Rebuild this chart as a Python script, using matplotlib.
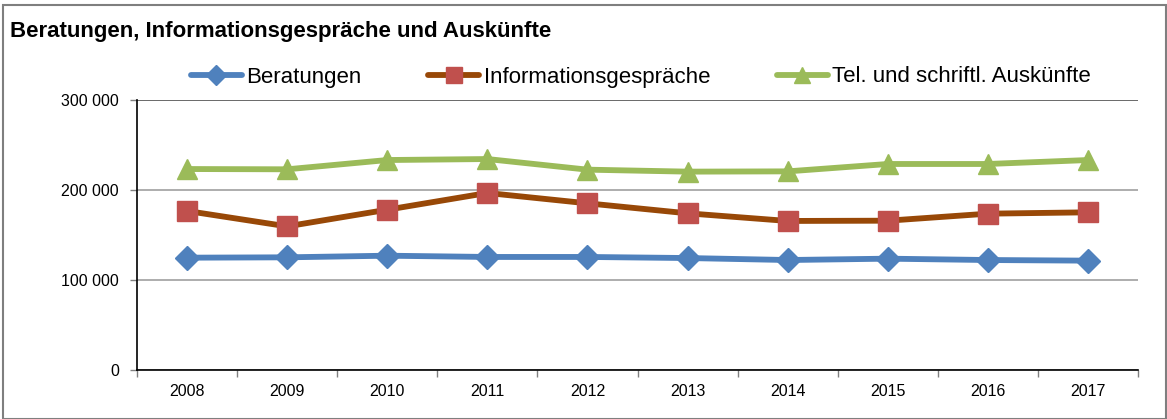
import matplotlib
matplotlib.use("Agg")
import matplotlib.pyplot as plt
from matplotlib.lines import Line2D
from matplotlib.patches import Rectangle

plt.rcParams['font.family'] = ['Liberation Sans', 'DejaVu Sans']

years = ["2008", "2009", "2010", "2011", "2012", "2013", "2014", "2015", "2016", "2017"]
beratungen = [124800, 125200, 127000, 125600, 125600, 124400, 122200, 123700, 122200, 121500]
informationsgespraeche = [176700, 159600, 178100, 196700, 185200, 174100, 165600, 165900, 173700, 175200]
auskuenfte = [223300, 223000, 233300, 234400, 222600, 220400, 220700, 228900, 228900, 233300]
series_names = ["Beratungen", "Informationsgespräche", "Tel. und schriftl. Auskünfte"]
y_ticks = [0, 100000, 200000, 300000]
y_ticklabels = ["0", "100 000", "200 000", "300 000"]
title = "Beratungen, Informationsgespräche und Auskünfte"

W, H = 1167, 419
fig = plt.figure(figsize=(W / 100, H / 100), dpi=100)
ax = fig.add_axes([137 / W, 1 - 370 / H, (1138 - 137) / W, (370 - 100) / H])

x = list(range(len(years)))
styles = [
    dict(color="#4F81BD", marker="D", mfc="#4F81BD", mec="#4F81BD", ms=12.5),
    dict(color="#984807", marker="s", mfc="#C0504D", mec="#C0504D", ms=14),
    dict(color="#9BBB59", marker="^", mfc="#9BBB59", mec="#9BBB59", ms=14),
]
for vals, name, st in zip([beratungen, informationsgespraeche, auskuenfte], series_names, styles):
    ax.plot(x, vals, lw=4.2, label=name, solid_joinstyle="round", solid_capstyle="round",
            zorder=3, **st)

ax.set_xlim(-0.5, len(years) - 0.5)
ax.set_ylim(0, 300000)
ax.set_yticks(y_ticks)
ax.set_yticklabels(y_ticklabels, fontsize=11.5)
ax.set_xticks(x)
ax.set_xticklabels(years, fontsize=11.5)
ax.set_xticks([i - 0.5 for i in range(len(years) + 1)], minor=True)
ax.tick_params(axis="x", which="major", length=0, pad=10)
ax.tick_params(axis="x", which="minor", length=5, color="#808080", width=1)
ax.tick_params(axis="y", length=5, color="#808080", width=1, pad=8)

ax.yaxis.grid(True, color="#A0A0A0", lw=1.2)
ax.set_axisbelow(True)
for s in ["top", "right"]:
    ax.spines[s].set_visible(False)
ax.spines["left"].set_color("black")
ax.spines["bottom"].set_color("black")
ax.spines["left"].set_linewidth(1.2)
ax.spines["bottom"].set_linewidth(1.2)
ax.axhline(300000, color="#606060", lw=1.2, zorder=1)

fig.text(10 / W, 1 - 32 / H, title, fontsize=16, fontweight="bold", va="center", ha="left")

handles = [Line2D([], [], lw=4.2, solid_capstyle="round", **st) for st in styles]
handles[0].set_markersize(10)
handles[1].set_markersize(12)
handles[2].set_markersize(12)
fig.legend(handles, series_names, loc="center", bbox_to_anchor=(641 / W, 1 - 77 / H), ncol=3,
           frameon=False, fontsize=16, handlelength=2.3, handletextpad=0.2, columnspacing=3.0)

fig.patches.append(Rectangle((3 / W, 0), (W - 3) / W - 0.0005, 1 - 5 / H, transform=fig.transFigure,
                             fill=False, edgecolor="#7F7F7F", lw=1.5))

fig.savefig("out.png", dpi=100)
